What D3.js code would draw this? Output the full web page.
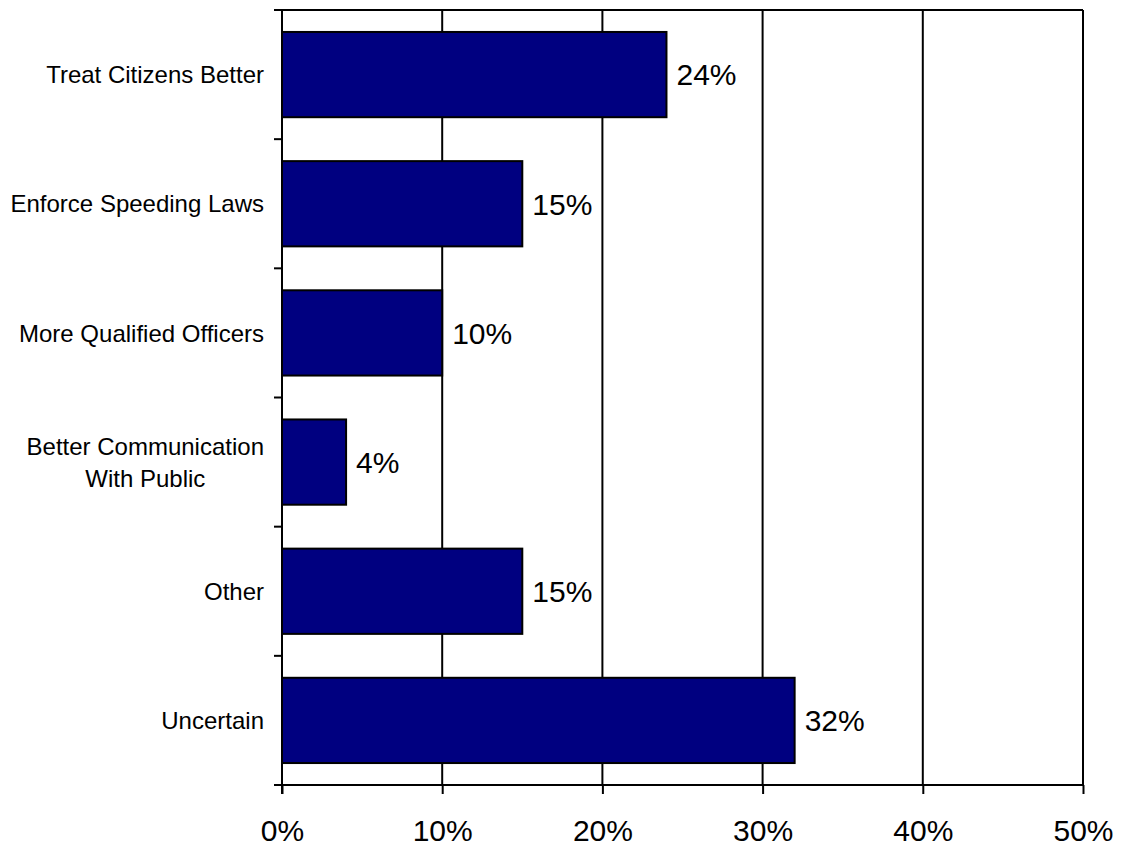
<!DOCTYPE html>
<html>
<head>
<meta charset="utf-8">
<script src="https://cdn.jsdelivr.net/npm/d3@7"></script>
<style>
  html, body { margin: 0; padding: 0; background: #fff; }
  svg { display: block; font-family: "Liberation Sans", Arial, sans-serif; }
</style>
</head>
<body>
<svg id="chart" width="1123" height="846"></svg>
<script>
// Survey responses: what the police could do better
const categories = [
  ["Treat Citizens Better"],
  ["Enforce Speeding Laws"],
  ["More Qualified Officers"],
  ["Better Communication", "With Public"],
  ["Other"],
  ["Uncertain"]
];
const values = [24, 15, 10, 4, 15, 32];
const xTicks = [0, 10, 20, 30, 40, 50];

const margin = { top: 10, right: 40, bottom: 61, left: 282 };
const width = 1123, height = 846;
const innerW = 1083 - margin.left;
const innerH = 785 - margin.top;

const svg = d3.select("#chart");
const g = svg.append("g").attr("transform", `translate(${margin.left},${margin.top})`);

const keys = categories.map(c => c.join(" "));
const x = d3.scaleLinear().domain([0, 50]).range([0, innerW]);
const y = d3.scaleBand().domain(keys).range([0, innerH]).paddingInner(0.34).paddingOuter(0.17);

// vertical gridlines
g.selectAll("line.grid").data(xTicks.slice(1)).join("line")
  .attr("class", "grid")
  .attr("x1", d => x(d)).attr("x2", d => x(d))
  .attr("y1", 0).attr("y2", innerH)
  .attr("stroke", "#000").attr("stroke-width", 2);

// top border
g.append("line").attr("x1", -8).attr("x2", innerW).attr("y1", 0).attr("y2", 0)
  .attr("stroke", "#000").attr("stroke-width", 2);

// bars
g.selectAll("rect.bar").data(values).join("rect")
  .attr("class", "bar")
  .attr("x", 0)
  .attr("y", (d, i) => y(keys[i]))
  .attr("width", d => x(d))
  .attr("height", y.bandwidth())
  .attr("fill", "#000080")
  .attr("stroke", "#000").attr("stroke-width", 2);

// value labels
g.selectAll("text.val").data(values).join("text")
  .attr("class", "val")
  .attr("x", d => x(d) + 10)
  .attr("y", (d, i) => y(keys[i]) + y.bandwidth() / 2)
  .attr("dy", "0.36em")
  .attr("font-size", 30)
  .attr("fill", "#000")
  .text(d => d + "%");

// x axis
const xAxis = g.append("g").attr("transform", `translate(0,${innerH})`)
  .call(d3.axisBottom(x).tickValues(xTicks).tickFormat(d => d + "%").tickSize(9).tickPadding(26));
xAxis.select(".domain").attr("stroke-width", 2).attr("d", `M-8,0H${innerW}`);
xAxis.selectAll(".tick line").attr("stroke-width", 2);
xAxis.selectAll(".tick text").attr("font-size", 30).attr("font-family", "Liberation Sans, Arial, sans-serif").attr("fill", "#000");

// y axis line and category separator ticks
g.append("line").attr("x1", 0).attr("x2", 0).attr("y1", 0).attr("y2", innerH + 9)
  .attr("stroke", "#000").attr("stroke-width", 2);
const step = y.step();
g.selectAll("line.ytick").data(d3.range(keys.length + 1)).join("line")
  .attr("class", "ytick")
  .attr("x1", -8).attr("x2", 0)
  .attr("y1", i => i * step).attr("y2", i => i * step)
  .attr("stroke", "#000").attr("stroke-width", 2);

// category labels (multi-line labels centred on their widest line)
const fs = 24, lineH = 32, rightEdge = -18;
categories.forEach((lines, i) => {
  const cy = y(keys[i]) + y.bandwidth() / 2;
  const t = g.append("text").attr("font-size", fs).attr("fill", "#000").attr("text-anchor", "middle");
  lines.forEach((ln, j) => {
    t.append("tspan").attr("x", 0)
      .attr("y", cy + (j - (lines.length - 1) / 2) * lineH)
      .attr("dy", "0.36em").text(ln);
  });
  const maxW = d3.max(t.selectAll("tspan").nodes(), n => n.getComputedTextLength());
  t.selectAll("tspan").attr("x", rightEdge - maxW / 2);
});
</script>
</body>
</html>
